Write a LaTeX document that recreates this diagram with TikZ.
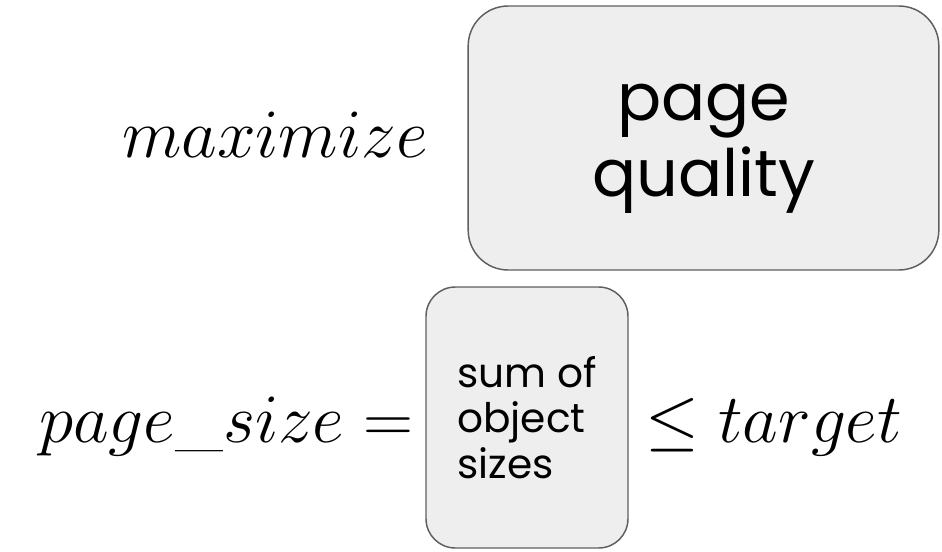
\RequirePackage{fix-cm}
\documentclass[tikz,border=0pt]{standalone}
\usepackage{fontspec}
\newfontfamily\slidefont{Poppins}
\definecolor{boxfill}{HTML}{EEEEEE}
\definecolor{boxline}{HTML}{5F5F5F}

\begin{document}
\begin{tikzpicture}[x=0.75pt,y=-0.75pt,
  slidebox/.style={draw=boxline, fill=boxfill, line width=1.1pt, inner sep=0pt},
  mathtext/.style={inner sep=0pt, font=\fontsize{52}{60}\selectfont}]
\useasboundingbox (0,0) rectangle (942,551);
\node[mathtext, anchor=base] (maxlbl) at (275,157) {$maximize$};
\node[slidebox, rounded corners=30pt, minimum width=353pt, minimum height=198pt, align=center,
  text height=100pt, font=\slidefont\fontsize{49}{51}\selectfont] (quality) at (703.5,138) {page\\[6pt]quality};
\node[slidebox, rounded corners=22pt, minimum width=151.5pt, minimum height=195.75pt, align=left,
  font=\slidefont\fontsize{30.5}{34}\selectfont] (objsizes) at (527,417.5) {sum of\\object\\sizes};
\node[mathtext, anchor=base east] (pagesize) at (414,442) {$page\_size =$};
\node[mathtext, anchor=base west] (target) at (645,442) {$\leq target$};
\end{tikzpicture}
\end{document}
